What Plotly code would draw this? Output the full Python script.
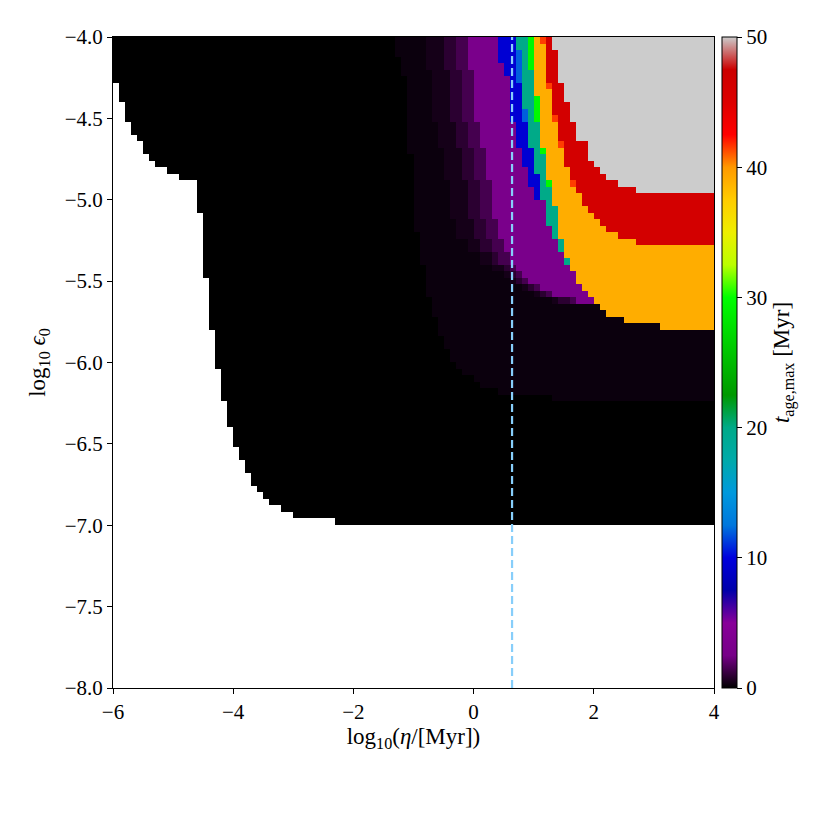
import numpy as np
import plotly.graph_objects as go

# ---------------- data ----------------
# grid: log10(eta) from -6 to 4 in 0.1 steps (100 columns),
#       log10(eps0) from -4 down to -7 in 0.04 steps (75 rows, listed top row first)
eta_edges_min, eta_step, n_cols = -6.0, 0.1, 100
eps_top, eps_step, n_rows = -4.0, 0.04, 75

# first column with data in each row (white/no-data to the left)
left_edge = [0, 0, 0, 0, 0, 0, 0, 1, 1, 1, 2, 2, 2, 3, 3, 4, 5, 5, 6, 7,
             9, 11, 14, 14, 14, 14, 14, 15, 15, 15, 15, 15, 15, 15, 15, 15, 15, 16, 16, 16,
             16, 16, 16, 16, 16, 17, 17, 17, 17, 17, 17, 18, 18, 18, 18, 18, 19, 19, 19, 19,
             20, 20, 20, 21, 21, 22, 22, 23, 23, 24, 25, 26, 28, 30, 37]

# band values (Myr) for each colour band, from darkest to the grey plateau
band_names = ["d1", "d2", "d3", "d4", "purple", "blue", "lightblue", "teal",
              "green", "orange", "red", "grey"]
band_values = [0.23, 0.45, 0.9, 1.45, 3.0, 9.5, 12.0, 20.0, 29.5, 39.0, 46.5, 50.0]
orange_red_value = 41.5

# first column of each band per row (100 = band absent)
d1_start = [47, 47, 47, 48, 48, 48, 49, 49, 49, 49, 49, 49, 49, 49, 49, 49, 49, 49, 50, 50,
            50, 50, 50, 50, 50, 50, 50, 50, 50, 50, 51, 51, 51, 51, 51, 52, 52, 52, 52, 52,
            53, 53, 53, 54, 54, 54, 55, 55, 56, 56, 57, 58, 60, 61, 64, 73, 100, 100, 100, 100,
            100, 100, 100, 100, 100, 100, 100, 100, 100, 100, 100, 100, 100, 100, 100]
d2_start = [52, 52, 52, 52, 52, 53, 53, 53, 53, 53, 53, 53, 53, 54, 54, 54, 54, 55, 55, 55,
            55, 55, 56, 56, 56, 56, 56, 56, 57, 57, 57, 59, 59, 61, 61, 63, 65, 66, 68, 70,
            73, 81, 82, 85, 91, 100, 100, 100, 100, 100, 100, 100, 100, 100, 100, 100, 100, 100, 100, 100,
            100, 100, 100, 100, 100, 100, 100, 100, 100, 100, 100, 100, 100, 100, 100]
d3_start = [55, 55, 55, 55, 55, 56, 56, 56, 56, 56, 56, 56, 56, 57, 57, 57, 57, 58, 58, 58,
            58, 58, 59, 59, 59, 59, 59, 59, 60, 60, 60, 61, 61, 63, 63, 65, 66, 67, 69, 71,
            74, 81, 82, 85, 91, 100, 100, 100, 100, 100, 100, 100, 100, 100, 100, 100, 100, 100, 100, 100,
            100, 100, 100, 100, 100, 100, 100, 100, 100, 100, 100, 100, 100, 100, 100]
d4_start = [57, 57, 57, 57, 57, 58, 58, 58, 58, 58, 58, 58, 58, 59, 59, 59, 59, 60, 60, 60,
            60, 60, 61, 61, 61, 61, 61, 61, 62, 62, 62, 63, 63, 64, 64, 66, 67, 68, 70, 72,
            76, 81, 82, 85, 91, 100, 100, 100, 100, 100, 100, 100, 100, 100, 100, 100, 100, 100, 100, 100,
            100, 100, 100, 100, 100, 100, 100, 100, 100, 100, 100, 100, 100, 100, 100]
purple_start = [59, 59, 59, 59, 59, 60, 60, 60, 60, 60, 60, 60, 60, 61, 61, 61, 61, 62, 62, 62,
                62, 62, 63, 63, 63, 63, 63, 63, 64, 64, 64, 65, 65, 66, 66, 67, 68, 69, 71, 73,
                77, 81, 82, 85, 91, 100, 100, 100, 100, 100, 100, 100, 100, 100, 100, 100, 100, 100, 100, 100,
                100, 100, 100, 100, 100, 100, 100, 100, 100, 100, 100, 100, 100, 100, 100]
blue_start = [64, 64, 64, 64, 65, 65, 66, 66, 66, 66, 66, 66, 66, 67, 67, 67, 67, 68, 68, 68,
              69, 69, 69, 70, 70, 72, 72, 72, 72, 73, 73, 74, 74, 75, 75, 76, 77, 77, 78, 79,
              80, 81, 82, 85, 91, 100, 100, 100, 100, 100, 100, 100, 100, 100, 100, 100, 100, 100, 100, 100,
              100, 100, 100, 100, 100, 100, 100, 100, 100, 100, 100, 100, 100, 100, 100]
lightblue_start = [67, 67, 67, 67, 67, 67, 67, 68, 68, 68, 68, 68, 68, 69, 69, 69, 69, 70, 70, 70,
                   70, 71, 71, 71, 71, 72, 72, 72, 72, 73, 73, 74, 74, 75, 75, 76, 77, 77, 78, 79,
                   80, 81, 82, 85, 91, 100, 100, 100, 100, 100, 100, 100, 100, 100, 100, 100, 100, 100, 100, 100,
                   100, 100, 100, 100, 100, 100, 100, 100, 100, 100, 100, 100, 100, 100, 100]
teal_start = [67, 67, 68, 68, 68, 68, 68, 68, 68, 68, 68, 69, 69, 69, 69, 69, 69, 70, 70, 70,
              70, 71, 71, 71, 71, 72, 72, 72, 72, 73, 73, 74, 74, 75, 75, 76, 77, 77, 78, 79,
              80, 81, 82, 85, 91, 100, 100, 100, 100, 100, 100, 100, 100, 100, 100, 100, 100, 100, 100, 100,
              100, 100, 100, 100, 100, 100, 100, 100, 100, 100, 100, 100, 100, 100, 100]
green_start = [69, 69, 69, 69, 69, 70, 70, 70, 70, 70, 70, 70, 70, 71, 71, 71, 71, 71, 72, 72,
               72, 72, 72, 73, 73, 73, 74, 74, 74, 74, 74, 75, 75, 75, 76, 76, 77, 77, 78, 79,
               80, 81, 82, 85, 91, 100, 100, 100, 100, 100, 100, 100, 100, 100, 100, 100, 100, 100, 100, 100,
               100, 100, 100, 100, 100, 100, 100, 100, 100, 100, 100, 100, 100, 100, 100]
orange_start = [70, 70, 70, 70, 70, 70, 70, 70, 70, 71, 71, 71, 71, 71, 71, 71, 71, 72, 72, 72,
                72, 72, 73, 73, 73, 73, 74, 74, 74, 74, 74, 75, 75, 75, 76, 76, 77, 77, 78, 79,
                80, 81, 82, 85, 91, 100, 100, 100, 100, 100, 100, 100, 100, 100, 100, 100, 100, 100, 100, 100,
                100, 100, 100, 100, 100, 100, 100, 100, 100, 100, 100, 100, 100, 100, 100]
red_start = [72, 72, 72, 72, 72, 72, 72, 73, 73, 73, 73, 73, 74, 74, 74, 74, 75, 75, 75, 75,
             76, 76, 77, 77, 78, 78, 79, 80, 81, 82, 84, 87, 100, 100, 100, 100, 100, 100, 100, 100,
             100, 100, 100, 100, 100, 100, 100, 100, 100, 100, 100, 100, 100, 100, 100, 100, 100, 100, 100, 100,
             100, 100, 100, 100, 100, 100, 100, 100, 100, 100, 100, 100, 100, 100, 100]
grey_start = [73, 73, 74, 74, 74, 74, 74, 75, 75, 75, 76, 76, 76, 77, 77, 77, 79, 79, 79, 80,
              81, 82, 84, 87, 100, 100, 100, 100, 100, 100, 100, 100, 100, 100, 100, 100, 100, 100, 100, 100,
              100, 100, 100, 100, 100, 100, 100, 100, 100, 100, 100, 100, 100, 100, 100, 100, 100, 100, 100, 100,
              100, 100, 100, 100, 100, 100, 100, 100, 100, 100, 100, 100, 100, 100, 100]
# single orange-red cells (row, column)
orange_red_cells = [(0, 71), (7, 72), (12, 73), (16, 74), (22, 76)]

eta_line = 0.64  # dashed vertical line, log10(eta)

# axis ticks
x_ticks = [-6, -4, -2, 0, 2, 4]
y_ticks = [-8.0, -7.5, -7.0, -6.5, -6.0, -5.5, -5.0, -4.5, -4.0]
cb_ticks = [0, 10, 20, 30, 40, 50]

# ---------------- build grid ----------------
starts = [d1_start, d2_start, d3_start, d4_start, purple_start, blue_start,
          lightblue_start, teal_start, green_start, orange_start, red_start, grey_start]
z_top = np.full((n_rows, n_cols), np.nan)
for i in range(n_rows):
    z_top[i, left_edge[i]:] = 0.0
    for s, v in zip(starts, band_values):
        z_top[i, s[i]:] = v
for (i, j) in orange_red_cells:
    z_top[i, j] = orange_red_value

x_c = eta_edges_min + eta_step * (np.arange(n_cols) + 0.5)
y_c_top = eps_top - eps_step * (np.arange(n_rows) + 0.5)
z = z_top[::-1]
y_c = y_c_top[::-1]

# nipy_spectral colormap anchors
nipy = [(0.0, 0.0, 0.0), (0.4667, 0.0, 0.5333), (0.5333, 0.0, 0.6), (0.0, 0.0, 0.6667),
        (0.0, 0.0, 0.8667), (0.0, 0.4667, 0.8667), (0.0, 0.6, 0.8667), (0.0, 0.6667, 0.6667),
        (0.0, 0.6667, 0.5333), (0.0, 0.6, 0.0), (0.0, 0.7333, 0.0), (0.0, 0.8667, 0.0),
        (0.0, 1.0, 0.0), (0.7333, 1.0, 0.0), (0.9333, 0.9333, 0.0), (1.0, 0.8, 0.0),
        (1.0, 0.6, 0.0), (1.0, 0.0, 0.0), (0.8667, 0.0, 0.0), (0.8, 0.0, 0.0), (0.8, 0.8, 0.8)]
colorscale = [[k / 20, "rgb(%d,%d,%d)" % (round(r * 255), round(g * 255), round(b * 255))]
              for k, (r, g, b) in enumerate(nipy)]

font_family = "Liberation Serif"

def minus(s):
    return s.replace("-", "\u2212")

fig = go.Figure()
fig.add_trace(go.Heatmap(
    x=x_c, y=y_c, z=z, zmin=0, zmax=50, colorscale=colorscale, hoverongaps=False,
    colorbar=dict(
        x=1.0133, xanchor="left", xref="paper", y=0.5, yanchor="middle", len=1.0, lenmode="fraction",
        xpad=0, ypad=0,
        thickness=15, outlinewidth=1, outlinecolor="black",
        tickvals=cb_ticks, ticktext=[str(v) for v in cb_ticks], ticks="outside", ticklen=5,
        tickcolor="black", tickfont=dict(size=21, family=font_family, color="black"),
        title=dict(text="<i>t</i><sub>age,max</sub> [Myr]", side="right",
                   font=dict(size=23, family=font_family, color="black")),
    ),
))
fig.add_trace(go.Scatter(
    x=[eta_line, eta_line], y=[y_ticks[0], y_ticks[-1]], mode="lines",
    line=dict(color="#87cefa", width=2.2, dash="8px,4px"), showlegend=False, hoverinfo="skip",
))

# the page body adds an 8 px offset, margins compensate for it
fig.update_layout(
    width=830, height=830,
    margin=dict(l=105, r=124, t=29, b=150),
    paper_bgcolor="white", plot_bgcolor="white",
    font=dict(family=font_family, size=21, color="black"),
    showlegend=False,
    xaxis=dict(range=[-6, 4], tickvals=x_ticks, ticktext=[minus(str(v)) for v in x_ticks],
               ticks="outside", ticklen=5, tickcolor="black", showline=True, mirror=True,
               linecolor="black", linewidth=1, showgrid=False, zeroline=False,
               title=dict(text="log<sub>10</sub>(<i>η</i>/[Myr])", standoff=2,
                          font=dict(size=23, family=font_family))),
    yaxis=dict(range=[-8, -4], tickvals=y_ticks, ticktext=[minus("%.1f" % v) for v in y_ticks],
               ticks="outside", ticklen=5, tickcolor="black", showline=True, mirror=True,
               linecolor="black", linewidth=1, showgrid=False, zeroline=False,
               title=dict(text="log<sub>10</sub> <i>ϵ</i><sub>0</sub>", standoff=12,
                          font=dict(size=23, family=font_family))),
)
fig.write_html("out.html")
